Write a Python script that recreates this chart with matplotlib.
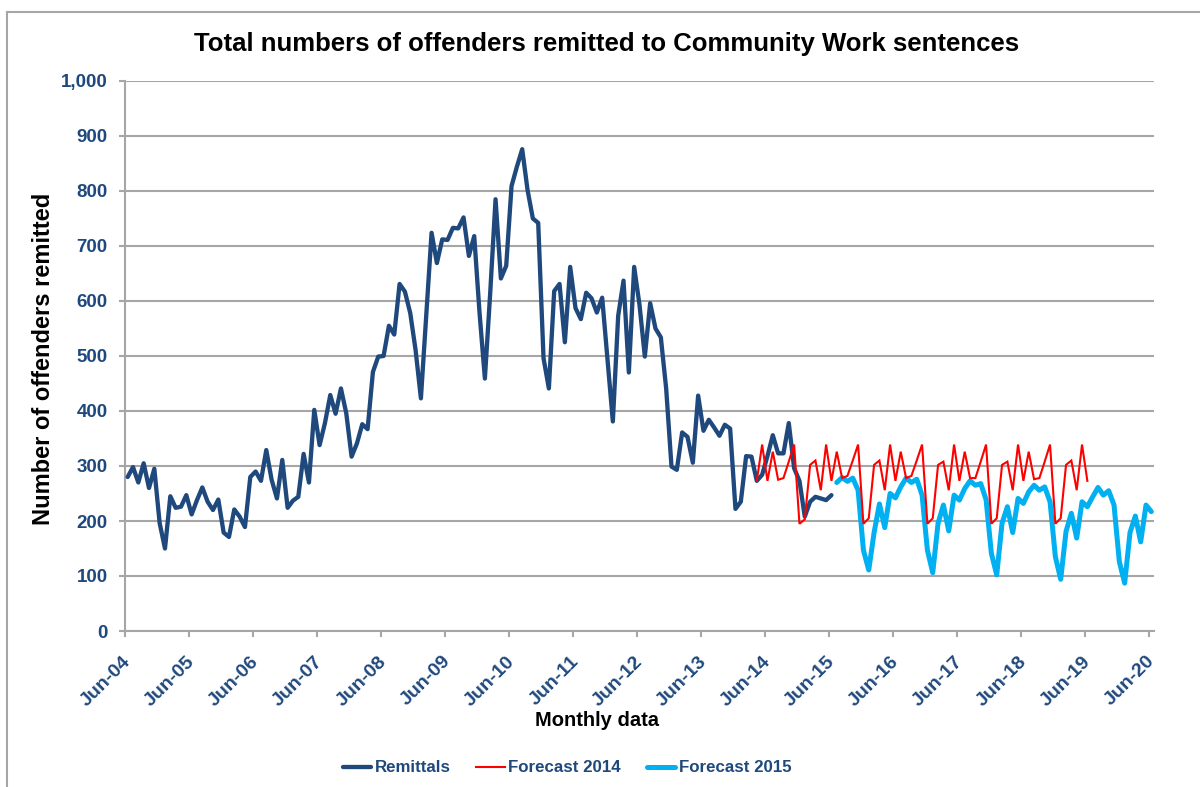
import matplotlib
matplotlib.use("Agg")
import matplotlib.pyplot as plt
import matplotlib.transforms as mtransforms
from matplotlib.lines import Line2D

# ---------------- data ----------------
tick_labels = ["Jun-04", "Jun-05", "Jun-06", "Jun-07", "Jun-08", "Jun-09", "Jun-10",
               "Jun-11", "Jun-12", "Jun-13", "Jun-14", "Jun-15", "Jun-16", "Jun-17",
               "Jun-18", "Jun-19", "Jun-20"]
n_months = 193  # Jun-04 .. Jun-20 monthly categories

# Remittals: monthly values from Jun-04 (month 0)
remittals = [280, 298, 270, 305, 260, 295, 196, 150, 245, 224, 226, 247,
             212, 238, 261, 235, 220, 239, 179, 171, 221, 208, 189, 280,
             290, 273, 329, 275, 241, 311, 224, 237, 244, 322, 270, 402,
             338, 378, 429, 395, 441, 396, 317, 341, 376, 367, 471, 499,
             500, 555, 539, 631, 617, 578, 511, 423, 573, 724, 669, 712,
             711, 733, 732, 752, 682, 718, 578, 459, 615, 785, 641, 664,
             809, 844, 876, 802, 750, 742, 496, 441, 618, 631, 525, 662,
             587, 567, 615, 605, 579, 606, 493, 381, 573, 637, 470, 662,
             593, 499, 596, 550, 534, 441, 299, 293, 361, 353, 306, 428,
             364, 384, 370, 355, 375, 368, 222, 235, 318, 317, 273, 284,
             318, 356, 323, 323, 378, 296, 273, 208, 235, 244, 241, 238,
             247]
remittals_start = 0

# Forecast 2014: starts Apr-14 (month 118)
forecast_2014 = [273, 339, 273, 326, 275, 278, 308, 339, 195, 203, 302, 310,
                 256, 339, 273, 326, 278, 282, 310, 339, 195, 205, 302, 310,
                 256, 339, 273, 326, 278, 282, 310, 339, 195, 205, 302, 308,
                 256, 339, 273, 326, 278, 278, 308, 339, 195, 205, 302, 308,
                 256, 339, 273, 326, 276, 278, 308, 339, 195, 205, 302, 310,
                 256, 339, 273]
forecast_2014_start = 118

# Forecast 2015: starts Jul-15 (month 133)
forecast_2015 = [270, 279, 272, 278, 256, 147, 111, 179, 231, 188, 250, 242,
                 262, 278, 270, 276, 247, 147, 106, 196, 229, 182, 247, 238,
                 259, 273, 265, 268, 239, 141, 102, 196, 226, 179, 241, 232,
                 253, 265, 256, 262, 235, 135, 94, 181, 214, 169, 235, 226,
                 244, 261, 247, 255, 229, 126, 87, 179, 209, 162, 229, 217]
forecast_2015_start = 133

y_ticks = [0, 100, 200, 300, 400, 500, 600, 700, 800, 900, 1000]

# ---------------- style ----------------
W, H = 1200, 787
DPI = 100
navy = "#1F497D"
red = "#FF0000"
cyan = "#00B0F0"
grid_col = "#A6A6A6"

plt.rcParams['font.family'] = ['Liberation Sans', 'DejaVu Sans']

fig = plt.figure(figsize=(W / DPI, H / DPI), dpi=DPI)
fig.patch.set_facecolor("white")

ax = fig.add_axes([125 / W, 1 - 631 / H, (1154 - 125) / W, (631 - 81) / H])


def xs(start, vals):
    return [start + i + 0.5 for i in range(len(vals))]


ax.plot(xs(remittals_start, remittals), remittals, color=navy, lw=3.1,
        solid_joinstyle="round", solid_capstyle="round", zorder=3, label="Remittals")
ax.plot(xs(forecast_2014_start, forecast_2014), forecast_2014, color=red, lw=1.5,
        solid_joinstyle="miter", zorder=4, label="Forecast 2014")
ax.plot(xs(forecast_2015_start, forecast_2015), forecast_2015, color=cyan, lw=3.6,
        solid_joinstyle="round", solid_capstyle="round", zorder=3, label="Forecast 2015")

ax.set_xlim(0, n_months)
ax.set_ylim(0, 1000)

ax.set_yticks(y_ticks)
ax.set_yticklabels([f"{v:,}" for v in y_ticks])
ax.set_xticks(list(range(0, n_months, 12)))
ax.set_xticklabels(tick_labels, rotation=45, ha="right", va="center",
                   rotation_mode="anchor")

for s in ["top", "right"]:
    ax.spines[s].set_visible(False)
for s in ["left", "bottom"]:
    ax.spines[s].set_color(grid_col)
    ax.spines[s].set_linewidth(1.5)

ax.yaxis.grid(True, color=grid_col, lw=1.5)
ax.set_axisbelow(True)

ax.tick_params(axis="y", direction="out", length=4, width=1.5, color=grid_col,
               labelsize=13.5, labelcolor=navy, pad=8.5)
ax.tick_params(axis="x", direction="out", length=4, width=1.5, color=grid_col,
               labelsize=14, labelcolor=navy, pad=16)
for lab in ax.get_yticklabels() + ax.get_xticklabels():
    lab.set_fontweight("bold")
offset = mtransforms.ScaledTranslation(3 / DPI, 0, fig.dpi_scale_trans)
for lab in ax.get_xticklabels():
    lab.set_transform(lab.get_transform() + offset)

# titles
fig.text(607 / W, 1 - 44 / H,
         "Total numbers of offenders remitted to Community Work sentences",
         ha="center", va="center", fontsize=18.5, fontweight="bold", color="black")
fig.text(44 / W, 1 - 359 / H, "Number of offenders remitted", rotation=90,
         ha="center", va="center", fontsize=17, fontweight="bold", color="black")
fig.text(597 / W, 1 - 720 / H, "Monthly data", ha="center", va="center",
         fontsize=14.5, fontweight="bold", color="black")

# legend
handles = [Line2D([], [], color=navy, lw=3.1, solid_capstyle="round"),
           Line2D([], [], color=red, lw=1.5),
           Line2D([], [], color=cyan, lw=3.6, solid_capstyle="round")]
leg = fig.legend(handles, ["Remittals", "Forecast 2014", "Forecast 2015"],
                 loc="center", bbox_to_anchor=(567 / W, 1 - 768 / H), ncol=3,
                 frameon=False, handlelength=1.7, handletextpad=0.2,
                 columnspacing=1.5, prop={"size": 12.2, "weight": "bold"})
for t in leg.get_texts():
    t.set_color(navy)

# outer chart border (left and top visible)
fig.add_artist(Line2D([7 / W, 7 / W], [0, 1 - 12 / H], transform=fig.transFigure,
                      color=grid_col, lw=1.5))
fig.add_artist(Line2D([7 / W, 1], [1 - 12 / H, 1 - 12 / H], transform=fig.transFigure,
                      color=grid_col, lw=1.5))

fig.savefig("out.png", dpi=DPI)
